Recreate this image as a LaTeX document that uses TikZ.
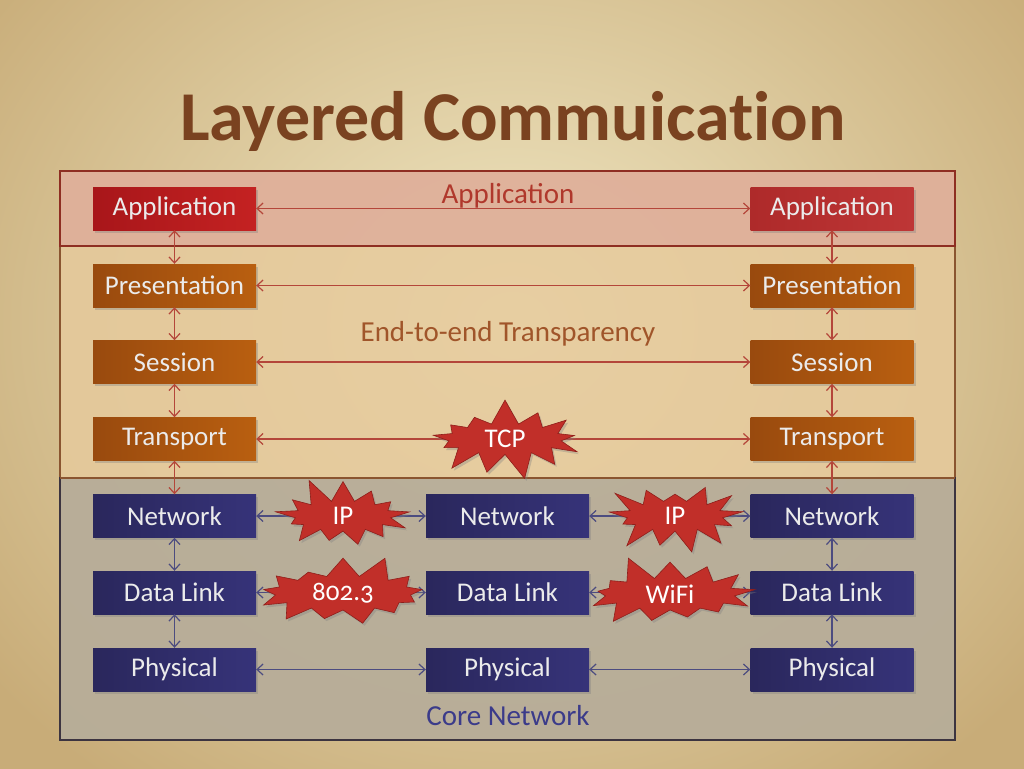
\documentclass[tikz,border=0pt]{standalone}
\usepackage{fontspec}
\setmainfont{Carlito}
\usetikzlibrary{arrows.meta,shapes.symbols,shadows}
\definecolor{bgin}{HTML}{F1E8C4}
\definecolor{bgout}{HTML}{C8AC78}
\definecolor{titlec}{HTML}{7A4220}
\definecolor{bandA}{HTML}{DFB09A}
\definecolor{bandAd}{HTML}{8E2E22}
\definecolor{bandT}{HTML}{E6CA9C}
\definecolor{bandTd}{HTML}{8A5530}
\definecolor{bandN}{HTML}{B7AD99}
\definecolor{bandNd}{HTML}{3C3440}
\definecolor{redA}{HTML}{A8161A}
\definecolor{redB}{HTML}{C42222}
\definecolor{redC}{HTML}{AE2A2A}
\definecolor{redD}{HTML}{BE3636}
\definecolor{orA}{HTML}{994A0E}
\definecolor{orB}{HTML}{B95F10}
\definecolor{nvA}{HTML}{2A275C}
\definecolor{nvB}{HTML}{363379}
\definecolor{arrR}{HTML}{B4463A}
\definecolor{arrN}{HTML}{4C4C80}
\definecolor{burst}{HTML}{C12F29}
\definecolor{burstd}{HTML}{8E1E1A}
\definecolor{lblA}{HTML}{B0382C}
\definecolor{lblT}{HTML}{A0552A}
\definecolor{lblN}{HTML}{3B3B8A}
\tikzset{
  box/.style={rectangle, minimum width=163pt, minimum height=43pt, inner sep=0pt,
    font=\fontsize{27}{30}\selectfont, text=white!92!black,
    drop shadow={shadow xshift=2pt, shadow yshift=-2.5pt, opacity=0.35}},
  appbox/.style={box, left color=redA, right color=redB},
  midbox/.style={box, left color=orA, right color=orB},
  netbox/.style={box, left color=nvA, right color=nvB},
  arrred/.style={draw=arrR, line width=1.2pt, {Straight Barb[length=6pt,width=11pt]}-{Straight Barb[length=6pt,width=11pt]}},
  arrnav/.style={draw=arrN, line width=1.2pt, {Straight Barb[length=6pt,width=11pt]}-{Straight Barb[length=6pt,width=11pt]}},
  burstnode/.style={starburst, fill=burst, draw=burstd, line width=0.6pt,
    starburst points=13, starburst point height=26pt, inner sep=2pt,
    minimum height=74pt,
    text=white, font=\fontsize{27}{29}\selectfont,
    drop shadow={shadow xshift=2pt, shadow yshift=-2.5pt, opacity=0.35}},
  bandlbl/.style={font=\fontsize{29}{32}\selectfont}
}
\begin{document}
\begin{tikzpicture}[x=1pt,y=-1pt]
\useasboundingbox (0,0) rectangle (1024,768);
\begin{scope}
\clip (0,0) rectangle (1024,768);
\shade[inner color=bgin, outer color=bgout] (-150,-250) rectangle (1174,900);
\end{scope}
% title
\node[anchor=base, text=titlec, font=\bfseries\fontsize{70}{80}\selectfont\addfontfeatures{Ligatures=NoCommon}] (title) at (513,140) {Layered Commuication};
% bands
\fill[bandT, opacity=0.85] (60,246) rectangle (955,478);
\draw[bandTd, line width=1.4pt] (60,246) rectangle (955,478);
\fill[bandN, opacity=0.95] (60,478) rectangle (955,740);
\draw[bandNd, line width=1.2pt] (60,478) rectangle (955,740);
\fill[bandA, opacity=0.95] (60,171) rectangle (955,246);
\draw[bandAd, line width=1.4pt] (60,171) rectangle (955,246);
\draw[bandTd, line width=1.4pt] (60,478) -- (955,478);
% band labels
\node[bandlbl, text=lblA] (lA) at (508,195.5) {Application};
\node[bandlbl, text=lblT] (lT) at (508,333.5) {End-to-end Transparency};
\node[bandlbl, text=lblN] (lN) at (508,716) {Core Network};
% boxes
\node[appbox] (aL) at (174.5,208.5) {Application};
\node[appbox, left color=redC, right color=redD] (aR) at (832,208.5) {Application};
\node[midbox] (pL) at (174.5,285.5) {Presentation};
\node[midbox] (pR) at (832,285.5) {Presentation};
\node[midbox] (sL) at (174.5,362) {Session};
\node[midbox] (sR) at (832,362) {Session};
\node[midbox] (tL) at (174.5,439) {Transport};
\node[midbox] (tR) at (832,439) {Transport};
\node[netbox] (nL) at (174.5,516) {Network};
\node[netbox] (nM) at (507.5,516) {Network};
\node[netbox] (nR) at (832,516) {Network};
\node[netbox] (dL) at (174.5,592.5) {Data Link};
\node[netbox] (dM) at (507.5,592.5) {Data Link};
\node[netbox] (dR) at (832,592.5) {Data Link};
\node[netbox] (phL) at (174.5,669.5) {Physical};
\node[netbox] (phM) at (507.5,669.5) {Physical};
\node[netbox] (phR) at (832,669.5) {Physical};
% horizontal connectors
\draw[arrred] (aL) -- (aR);
\draw[arrred] (pL) -- (pR);
\draw[arrred] (sL) -- (sR);
\draw[arrred] (tL) -- (tR);
\draw[arrnav] (nL) -- (nM);
\draw[arrnav] (nM) -- (nR);
\draw[arrnav] (dL) -- (dM);
\draw[arrnav] (dM) -- (dR);
\draw[arrnav] (phL) -- (phM);
\draw[arrnav] (phM) -- (phR);
% vertical connectors
\foreach \c in {L,R}{
  \draw[arrred] (a\c) -- (p\c);
  \draw[arrred] (p\c) -- (s\c);
  \draw[arrred] (s\c) -- (t\c);
  \draw[arrred] (t\c) -- (n\c);
  \draw[arrnav] (n\c) -- (d\c);
  \draw[arrnav] (d\c) -- (ph\c);
}
% bursts
\node[burstnode, minimum width=165pt, random starburst=7] (tcp) at (505,439) {TCP};
\node[burstnode, minimum width=148pt, random starburst=11] (ip1) at (343,516) {IP};
\node[burstnode, minimum width=148pt, random starburst=23] (ip2) at (675,516) {IP};
\node[burstnode, minimum width=188pt, random starburst=31] (e8023) at (343,593) {\addfontfeatures{Numbers=OldStyle}802.3};
\node[burstnode, minimum width=182pt, random starburst=5] (wifi) at (670,594) {WiFi};
\end{tikzpicture}
\end{document}
